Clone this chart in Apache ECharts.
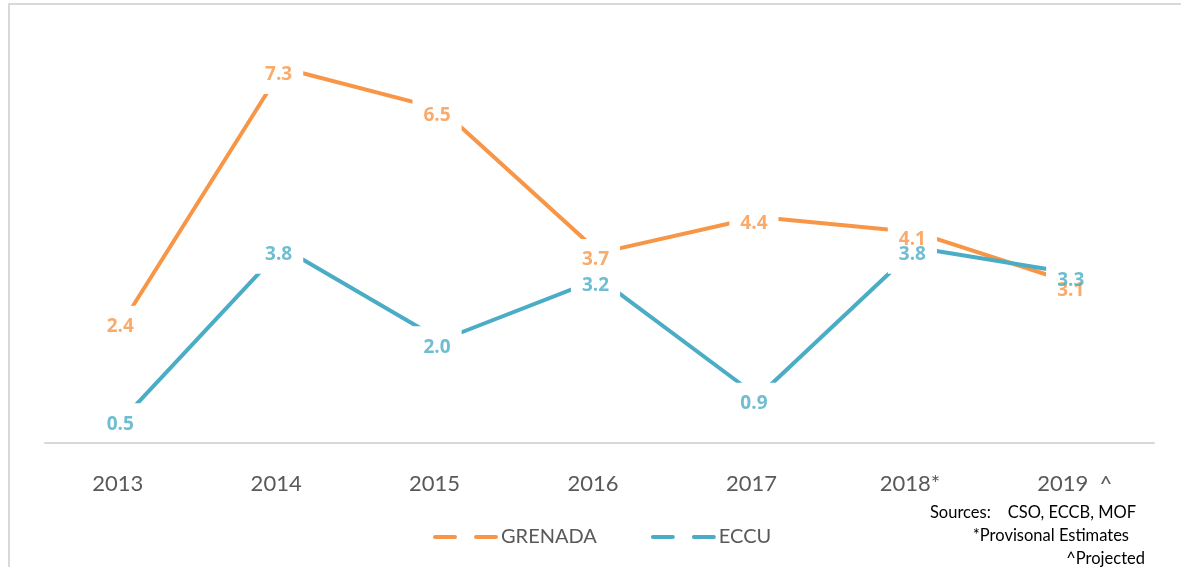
<!DOCTYPE html>
<html lang="en">
<head>
    <meta charset="UTF-8">
    <title>Grenada vs ECCU growth</title>
    <script src="https://cdn.jsdelivr.net/npm/echarts@6/dist/echarts.min.js"></script>
    <style>
        html, body { margin: 0; padding: 0; background: #fff; }
    </style>
</head>
<body>
<div id="chart" style="width:1181px;height:567px;"></div>
<script>
    // data
    var years = ['2013', '2014', '2015', '2016', '2017', '2018*', '2019  ^'];
    var grenada = [2.4, 7.3, 6.5, 3.7, 4.4, 4.1, 3.1];
    var eccu = [0.5, 3.8, 2.0, 3.2, 0.9, 3.8, 3.3];
    var seriesNames = ['GRENADA', 'ECCU'];
    var notes = ['Sources:    CSO, ECCB, MOF', '*Provisonal Estimates', '^Projected'];

    var orange = '#F79646';
    var blue = '#4BACC6';
    var font = 'Lato, "Open Sans", sans-serif';
    var boldFont = '"Open Sans", Lato, sans-serif';

    var mychart = echarts.init(document.getElementById('chart'));

    var cats = [];
    for (var i = 0; i < years.length; i++) {
        // excel labels sit a bit left of the tick centre, except the last one
        var pad = (i < years.length - 1) ? [0, 13, 0, 0] : [0, 0, 0, 0];
        cats.push({ value: years[i], textStyle: { padding: pad } });
    }

    // line with a white box round each point (the gap), text drawn by the scatter on top
    function gapLine(name, data, color) {
        return {
            name: name,
            type: 'line',
            data: data,
            z: 2,
            symbol: 'circle',
            symbolSize: 1,
            itemStyle: { color: color },
            lineStyle: { color: color, width: 4 },
            label: {
                show: true,
                position: 'inside',
                offset: [-4, 6],
                color: 'rgba(0,0,0,0)',
                fontFamily: boldFont,
                fontWeight: 'bold',
                fontSize: 19,
                lineHeight: 20,
                backgroundColor: '#fff',
                padding: [10, 11],
                formatter: function (p) { return p.value.toFixed(1); }
            },
            emphasis: { disabled: true },
            animation: false
        };
    }

    function valueLabels(name, data, color) {
        return {
            name: name + ' label',
            type: 'scatter',
            data: data,
            z: 5,
            symbolSize: 0,
            itemStyle: { color: color },
            label: {
                show: true,
                position: 'inside',
                offset: [-4, 7],
                color: color,
                fontFamily: boldFont,
                fontWeight: 'bold',
                fontSize: 19,
                formatter: function (p) { return p.value.toFixed(1); }
            },
            emphasis: { disabled: true },
            animation: false
        };
    }

    var option = {
        backgroundColor: '#fff',
        animation: false,
        grid: { left: 45, right: 27, top: 32, bottom: 124 },
        legend: {
            data: seriesNames,
            left: 428,
            top: 522,
            icon: 'path://M2,0H22A2,2 0 0 1 22,4H2A2,2 0 0 1 2,0Z M43,0H63A2,2 0 0 1 63,4H43A2,2 0 0 1 43,0Z',
            itemWidth: 65,
            itemHeight: 4,
            itemGap: 54,
            selectedMode: false,
            textStyle: { color: '#595959', fontFamily: font, fontSize: 20, padding: [4, 0, 0, -2] }
        },
        xAxis: {
            type: 'category',
            data: cats,
            z: 3,
            boundaryGap: true,
            axisLine: { lineStyle: { color: '#d9d9d9', width: 2 } },
            axisTick: { show: false },
            axisLabel: {
                color: '#595959',
                fontFamily: font,
                fontSize: 22,
                lineHeight: 22,
                margin: 30
            },
            splitLine: { show: false }
        },
        yAxis: {
            type: 'value',
            min: 0,
            max: 8,
            show: false
        },
        graphic: [
            {
                type: 'rect',
                shape: { x: 9, y: 4, width: 1200, height: 600 },
                style: { fill: 'none', stroke: '#d9d9d9', lineWidth: 2 },
                silent: true
            },
            {
                type: 'text', right: 45, top: 504,
                style: { text: notes[0], fill: '#000', font: '16.5px ' + font }
            },
            {
                type: 'text', right: 52, top: 527,
                style: { text: notes[1], fill: '#000', font: '16.5px ' + font }
            },
            {
                type: 'text', right: 36, top: 550,
                style: { text: notes[2], fill: '#000', font: '16.5px ' + font }
            }
        ],
        series: [
            gapLine(seriesNames[0], grenada, orange),
            gapLine(seriesNames[1], eccu, blue),
            valueLabels(seriesNames[0], grenada, orange),
            valueLabels(seriesNames[1], eccu, blue)
        ]
    };

    mychart.setOption(option);
</script>
</body>
</html>
